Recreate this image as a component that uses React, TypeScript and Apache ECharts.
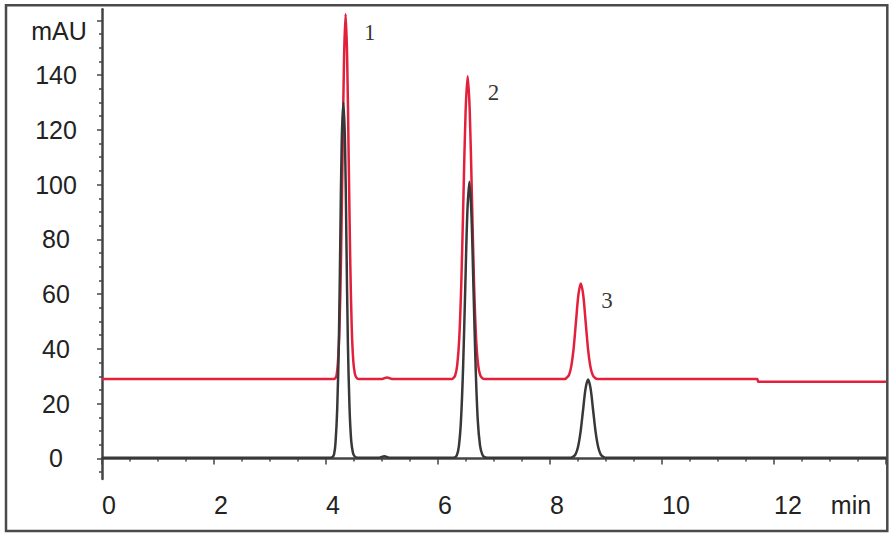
import React, { useEffect, useRef } from 'react';
import * as echarts from 'echarts';

const yMajorTicks = [0, 20, 40, 60, 80, 100, 120, 140, 160];
const yTickLabels = [0, 20, 40, 60, 80, 100, 120, 140];
const yMinorTicks = [-5, 5, 10, 15, 25, 30, 35, 45, 50, 55, 65, 70, 75, 85, 90, 95, 105, 110, 115, 125, 130, 135, 145, 150, 155];
const xTickLabels = [0, 2, 4, 6, 8, 10, 12];
const yUnit = 'mAU';
const xUnit = 'min';

// black trace (sample)
const sampleTrace: [number, number][] = [
  [0, 0.3], [4.08, 0.3], [4.12, 0.6], [4.145, 1.6], [4.17, 5.8], [4.2, 18], [4.23, 43], [4.255, 79], [4.28, 115], [4.31, 130],
  [4.34, 115], [4.365, 79], [4.39, 43], [4.42, 18.5], [4.45, 6.5], [4.48, 2.2], [4.51, 0.8], [4.56, 0.3],
  [4.95, 0.3], [5.04, 0.8], [5.13, 0.3],
  [6.28, 0.3], [6.335, 1.1], [6.3725, 4.4], [6.41, 13.7], [6.4475, 32.8], [6.485, 61], [6.5225, 89], [6.56, 101],
  [6.5975, 89], [6.635, 61], [6.6725, 33], [6.71, 14], [6.75, 4.8], [6.79, 1.5], [6.83, 0.5], [6.88, 0.3],
  [8.37, 0.3], [8.41, 0.6], [8.455, 1.5], [8.5, 4.2], [8.545, 9.6], [8.59, 17.6], [8.635, 25.5], [8.68, 28.8],
  [8.725, 25.5], [8.77, 17.6], [8.815, 9.6], [8.86, 4.2], [8.905, 1.5], [8.95, 0.6], [8.99, 0.3], [14, 0.3],
];

// red trace (standard)
const standardTrace: [number, number][] = [
  [0, 29], [4.14, 29], [4.165, 29.3], [4.19, 30.5], [4.2125, 35], [4.24, 47], [4.2675, 72], [4.295, 110], [4.3225, 146.5], [4.35, 162.3],
  [4.3775, 146.5], [4.405, 110], [4.4325, 72.5], [4.46, 47.5], [4.4875, 35.5], [4.515, 31], [4.54, 29.6], [4.58, 29],
  [5.0, 29], [5.09, 29.6], [5.18, 29],
  [6.25, 29], [6.2675, 29.2], [6.305, 30.2], [6.3425, 34], [6.38, 44], [6.4175, 65], [6.455, 96], [6.4925, 126.5], [6.53, 139.6],
  [6.5675, 126.5], [6.605, 96], [6.6425, 65], [6.68, 44], [6.7175, 34], [6.755, 30.3], [6.7925, 29.3], [6.84, 29],
  [8.27, 29], [8.295, 29.4], [8.34, 30.5], [8.38, 33.7], [8.4225, 40.3], [8.465, 50.2], [8.5075, 59.8], [8.55, 63.9],
  [8.5925, 59.8], [8.635, 50.2], [8.6775, 40.3], [8.72, 33.7], [8.7625, 30.5], [8.805, 29.4], [8.85, 29],
  [11.7, 29], [11.72, 28], [14, 28],
];

const peakNames = ['1', '2', '3'];
const peakLabelPoints: [number, number][] = [[4.78, 155.7], [6.99, 133.8], [9.02, 57.8]];

const FONT = "'Liberation Sans', Arial, sans-serif";
const AXIS_COLOR = '#444';
const TEXT_COLOR = '#222';

export default function App() {
  const ref = useRef<HTMLDivElement>(null);
  useEffect(() => {
    if (!ref.current) return;
    const chart = echarts.init(ref.current, undefined, { renderer: 'svg' });
    const gridBottom = 60;
    const labelMargin = 13;
    chart.setOption({
      animation: false,
      backgroundColor: '#fff',
      grid: { left: 102, right: 10, top: 9.3, bottom: gridBottom },
      xAxis: {
        type: 'value',
        min: 0,
        max: 14,
        interval: 2,
        axisLine: { show: true, lineStyle: { color: AXIS_COLOR, width: 2.5 } },
        axisTick: { show: true, length: 6, lineStyle: { color: AXIS_COLOR, width: 1.5 } },
        minorTick: { show: true, splitNumber: 4, length: 3, lineStyle: { color: AXIS_COLOR, width: 1.5 } },
        splitLine: { show: false },
        minorSplitLine: { show: false },
        axisLabel: {
          formatter: (v: number) => (xTickLabels.includes(v) ? String(v) : ''),
          align: 'left',
          margin: labelMargin,
          fontSize: 25,
          fontFamily: FONT,
          color: TEXT_COLOR,
        },
      },
      yAxis: [
        {
          type: 'value',
          min: -7.5,
          max: 164,
          position: 'left',
          axisLine: { show: true, lineStyle: { color: AXIS_COLOR, width: 2.5 } },
          axisTick: { show: true, customValues: yMajorTicks, length: 5, lineStyle: { color: AXIS_COLOR, width: 1.5 } },
          splitLine: { show: false },
          axisLabel: {
            customValues: yTickLabels,
            align: 'center',
            margin: 46,
            padding: [11, 0, 0, 0],
            fontSize: 25,
            fontFamily: FONT,
            color: TEXT_COLOR,
          },
        },
        {
          type: 'value',
          min: -7.5,
          max: 164,
          position: 'left',
          axisLine: { show: false },
          axisTick: { show: true, customValues: yMinorTicks, length: 3, lineStyle: { color: AXIS_COLOR, width: 1.5 } },
          splitLine: { show: false },
          axisLabel: { show: false },
        },
      ],
      series: [
        {
          type: 'line',
          data: standardTrace,
          yAxisIndex: 0,
          showSymbol: false,
          smooth: 0.3,
          lineStyle: { color: '#e2203c', width: 2.5 },
          z: 2,
        },
        {
          type: 'line',
          data: sampleTrace,
          yAxisIndex: 0,
          showSymbol: false,
          smooth: 0.3,
          lineStyle: { color: '#383838', width: 2.5 },
          z: 3,
        },
        {
          type: 'scatter',
          yAxisIndex: 0,
          symbolSize: 1,
          itemStyle: { color: 'rgba(0,0,0,0)' },
          data: peakNames.map((n, i) => ({ name: n, value: peakLabelPoints[i] })),
          label: {
            show: true,
            position: 'inside',
            formatter: (p: any) => p.name,
            fontSize: 23,
            fontFamily: "'Liberation Serif', 'Times New Roman', serif",
            color: '#000',
          },
          z: 4,
        },
      ],
      graphic: [
        {
          type: 'rect',
          shape: { x: 6, y: 5.3, width: 881.3, height: 525.7 },
          style: { fill: 'none', stroke: '#4a4a4a', lineWidth: 2.5 },
          silent: true,
        },
        {
          type: 'text',
          x: 59,
          y: 31,
          style: {
            text: yUnit,
            fontSize: 25,
            fontFamily: FONT,
            fill: TEXT_COLOR,
            textAlign: 'center',
            textVerticalAlign: 'middle',
          },
        },
        {
          type: 'text',
          x: 851,
          y: 539 - gridBottom + labelMargin,
          style: {
            text: xUnit,
            fontSize: 25,
            fontFamily: FONT,
            fill: TEXT_COLOR,
            textAlign: 'center',
            textVerticalAlign: 'top',
          },
        },
      ],
    });
    return () => chart.dispose();
  }, []);
  return <div ref={ref} style={{ position: 'fixed', left: 0, top: 0, width: 896, height: 539 }} />;
}
